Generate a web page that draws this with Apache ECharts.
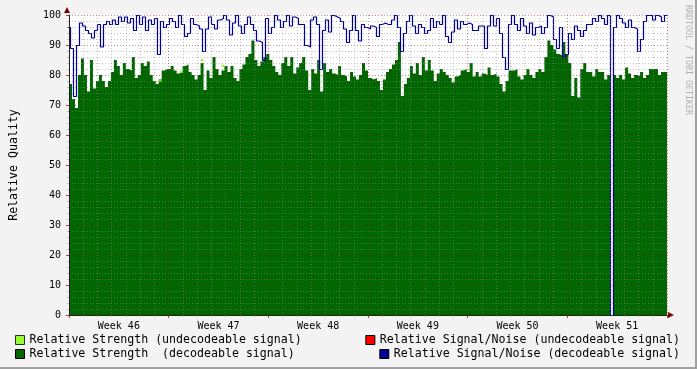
<!DOCTYPE html>
<html><head><meta charset="utf-8">
<script src="https://cdn.jsdelivr.net/npm/echarts@6/dist/echarts.min.js"></script>
<style>html,body{margin:0;padding:0;background:#F3F3F3}#c{width:697px;height:369px}</style>
</head><body><div id="c"></div>
<script>
// ---- data ----
const weekLabels = ['Week 46', 'Week 47', 'Week 48', 'Week 49', 'Week 50', 'Week 51'];
const weeksShown = 6;
// Relative Strength (decodeable signal), one value per sample (6 weeks)
const strengthDecodeable = [
 77,72,69,80,85.5,80,74.5,85,75.5,78,80,78,76,78,81,85,83,80,84,82,81.5,86,79,80,84,83,84.5,80,78,77,78.5,81.5,82,
 82,83,81.5,80.5,81,83,83.5,81,80,78.5,80,84,75,81.5,79,86,82,80,81.5,83,81,83,79,78,82,83.5,86,87,91.5,85,83,84.5,86,
 87,85,83,81,80,84,86,83,86,80.5,82.5,84,86,81.5,75,82,80.5,85,74.5,84,81,82,80.5,80,83,80,79.5,78,81,79.5,78.5,80,84,81.5,
 79,78.5,79,78,75,78.5,81,82,83.5,85,91,73,77,79,83,80.5,84,80,86,81.5,85,81.5,78,80.5,82,81,80,79,77.5,79.5,80,81.5,82,
 81,84,79.5,81,79.5,80.5,80,82.5,80,80.5,79.5,77,74.5,78,81.5,81.5,82,79.5,78.5,80,82,80,79,81,82,81,86,91.5,90,88.5,87,86.5,91,
 87,84,73,79,72.5,82,84,81,81,79.5,82,81,81,78.5,80,0,80,79,80,78.5,82.5,80.5,79,80,79.5,81,79,80,82,82,82,80,81,81
];
// Relative Signal/Noise (decodeable signal)
const snrDecodeable = [
 96,89,73,90,97.5,96.5,95,94,92.5,95,97,89.5,97,98,97,98.5,97,99.5,98,99.5,97.5,99,95,100,97,99.5,95,98.5,97,99,87,98,96,
 97,99,98,96,100,97,93,94,99,97,96.5,95.5,88,95.5,99.5,97,95.5,98.5,99,100,98.5,93.5,97.5,100,96.5,94,97,99.5,97,95,91.5,91,85,
 99,94,96,100,98.5,96,98,100,96.5,99.5,99,97,97,90,89.5,98.5,99.5,97,82,95,98.5,94.5,100,99.5,99,98,95.5,91,95,100,95,91.5,97,96,
 95.5,96.5,96,93,97,97.5,97,97,98.5,100,96,88,94,98,100,96.5,94,97,96,94,95,99,96,98,97,100,93,91,94.5,98.5,95.5,98,97,
 97.5,97,95,95,96.5,96.5,89,96.5,100,96.5,99,94,86,82,97,100,97,95,99,96.5,94,97.5,93.5,96,96.5,94,96,100,99.5,92,89,96,86,
 87,94,92,96.5,95,93,95,97,97,99,98,100,99,97,100,0,96,100,99,97.5,96,98.5,96,95.5,88,92,98,100,100,98.5,100,99.5,98,100
];
// Relative Strength (undecodeable signal): only a few samples visible
const strengthUndecSample = [30, 37, 44, 51];
const strengthUndecValue = [78, 81, 85, 83];
// Relative Signal/Noise (undecodeable signal): nothing visible
const snrUndecodeable = [];

// ---- build ----
const FONT = 'DejaVu Sans Mono';
const totalHours = weeksShown * 168;
const step = totalHours / strengthDecodeable.length;
function stepData(arr) {
  if (!arr.length) return [];
  const d = arr.map((v, i) => [i * step, v]);
  d.push([arr.length * step, arr[arr.length - 1]]);
  return d;
}
const G = {left: 67, top: 15, width: 600, height: 300};
// line grid shifted half a pixel so 1px lines stay crisp
const GL = {left: 67.5, top: 15.5, width: 600, height: 300};
const minorC = 'rgba(140,140,140,0.5)';
const majorC = 'rgba(130,30,30,0.5)';
const chart = echarts.init(document.getElementById('c'), null, {renderer: 'canvas'});
const legendBase = {
  orient: 'horizontal', padding: 0, itemWidth: 9, itemHeight: 9, itemGap: 0,
  icon: 'rect', selectedMode: false,
  textStyle: {fontFamily: FONT, fontSize: 11.6, color: '#000'}
};
const names = ['Relative Strength (undecodeable signal)', 'Relative Strength  (decodeable signal)',
  'Relative Signal/Noise (undecodeable signal)', 'Relative Signal/Noise (decodeable signal)'];
const colors = ['#7FFF00', '#006600', '#FF0000', '#000099'];
function leg(k, pos) {
  return Object.assign({}, legendBase, pos, {
    data: [{name: names[k], itemStyle: {color: colors[k], borderColor: '#000', borderWidth: 1}}]
  });
}
chart.setOption({
  animation: false,
  backgroundColor: '#F3F3F3',
  grid: [
    Object.assign({show: true, backgroundColor: '#FFFFFF', borderWidth: 0}, G),
    Object.assign({show: false}, GL)
  ],
  legend: [
    leg(0, {left: 15, top: 334}),
    leg(1, {left: 15, top: 348}),
    leg(2, {right: 17, top: 334}),
    leg(3, {right: 17, top: 348})
  ],
  xAxis: [{
    type: 'value', gridIndex: 0, min: 0, max: totalHours, interval: 168, z: 3,
    axisLine: {show: true, lineStyle: {color: '#202020', width: 1}},
    axisTick: {show: true, length: 3, lineStyle: {color: 'rgba(130,30,30,0.8)'}},
    minorTick: {show: true, splitNumber: 7, length: 2, lineStyle: {color: minorC}},
    axisLabel: {show: false},
    splitLine: {show: true, lineStyle: {color: majorC, type: [1, 2]}},
    minorSplitLine: {show: true, lineStyle: {color: minorC, type: [1, 2]}}
  }, {
    type: 'value', gridIndex: 0, min: 0, max: totalHours, interval: 84, position: 'bottom', offset: 0,
    axisLine: {show: false}, axisTick: {show: false}, splitLine: {show: false},
    axisLabel: {
      show: true, margin: 6, fontFamily: FONT, fontSize: 10, color: '#000', hideOverlap: false,
      formatter: v => { const k = Math.round(v / 84); return k % 2 === 1 ? weekLabels[(k - 1) / 2] : ''; }
    }
  }, {
    type: 'value', gridIndex: 1, min: 0, max: totalHours, show: false
  }],
  yAxis: [{
    type: 'value', gridIndex: 0, min: 0, max: 100, interval: 10, z: 3,
    name: 'Relative Quality', nameLocation: 'middle', nameGap: 49, nameRotate: 90,
    nameTextStyle: {fontFamily: FONT, fontSize: 11.6, color: '#000'},
    axisLine: {show: true, lineStyle: {color: '#202020', width: 1}},
    axisTick: {show: true, length: 3, lineStyle: {color: 'rgba(130,30,30,0.8)'}},
    minorTick: {show: true, splitNumber: 5, length: 2, lineStyle: {color: minorC}},
    axisLabel: {margin: 8, fontFamily: FONT, fontSize: 10, color: '#000'},
    splitLine: {show: true, lineStyle: {color: majorC, type: [1, 2]}},
    minorSplitLine: {show: true, lineStyle: {color: minorC, type: [1, 2]}}
  }, {
    type: 'value', gridIndex: 1, min: 0, max: 100, show: false
  }],
  series: [{
    name: names[1], type: 'line', step: 'end', z: 1, symbol: 'none', xAxisIndex: 0, yAxisIndex: 0,
    data: stepData(strengthDecodeable),
    lineStyle: {width: 0, color: colors[1]}, itemStyle: {color: colors[1]},
    areaStyle: {color: colors[1], opacity: 1}
  }, {
    name: names[0], type: 'scatter', z: 1, symbol: 'rect', symbolSize: [3, 2], xAxisIndex: 0, yAxisIndex: 0,
    itemStyle: {color: colors[0]},
    data: strengthUndecSample.map((s, j) => [s * step + step / 2, strengthUndecValue[j]])
  }, {
    name: names[2], type: 'line', step: 'end', z: 1, symbol: 'none', xAxisIndex: 2, yAxisIndex: 1,
    data: stepData(snrUndecodeable),
    lineStyle: {width: 1, color: colors[2]}, itemStyle: {color: colors[2]}
  }, {
    name: names[3], type: 'line', step: 'end', z: 1, symbol: 'none', xAxisIndex: 2, yAxisIndex: 1,
    data: stepData(snrDecodeable),
    lineStyle: {width: 1.2, color: colors[3]}, itemStyle: {color: colors[3]}
  }],
  graphic: [
    {type: 'polygon', z: 10, shape: {points: [[G.left - 3, G.top - 2], [G.left + 3, G.top - 2], [G.left, G.top - 8]]}, style: {fill: '#7F0000'}},
    {type: 'polygon', z: 10, shape: {points: [[G.left + G.width + 1, 312], [G.left + G.width + 1, 318], [G.left + G.width + 7, 315]]}, style: {fill: '#7F0000'}},
    {type: 'text', x: 688, y: 5, rotation: -Math.PI / 2, z: 10,
     style: {text: 'RRDTOOL / TOBI OETIKER', fill: '#B0B0B0', font: '8.3px "DejaVu Sans Mono"', align: 'left', verticalAlign: 'middle'}},
    {type: 'rect', z: 10, shape: {x: 695, y: 0, width: 2, height: 369}, style: {fill: '#A0A0A0'}},
    {type: 'rect', z: 10, shape: {x: 0, y: 367, width: 697, height: 2}, style: {fill: '#A0A0A0'}}
  ]
});
</script></body></html>
